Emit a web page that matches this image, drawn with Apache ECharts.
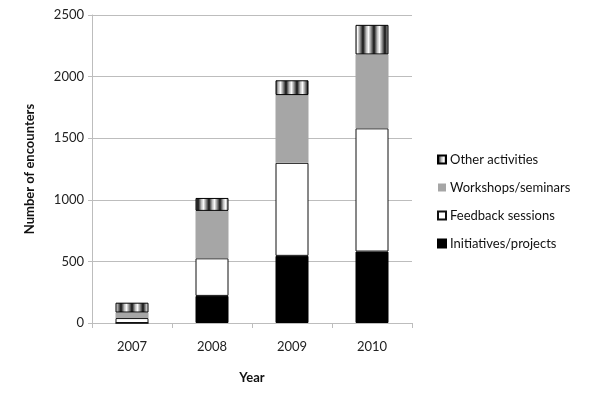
<!DOCTYPE html>
<html>
<head>
<meta charset="utf-8">
<script src="https://cdn.jsdelivr.net/npm/echarts@6/dist/echarts.min.js"></script>
<style>html,body{margin:0;padding:0;background:#fff;}#c{width:600px;height:406px;}</style>
</head>
<body>
<div id="c"></div>
<script>
const years = ['2007', '2008', '2009', '2010'];
const initiatives = [0, 220, 545, 580];
const feedback = [40, 305, 755, 1000];
const workshops = [45, 385, 550, 600];
const other = [80, 105, 120, 240];
const yTicks = [0, 500, 1000, 1500, 2000, 2500];

const pc = document.createElement('canvas');
pc.width = 11; pc.height = 4;
const g = pc.getContext('2d');
const grad = g.createLinearGradient(0, 0, 11, 0);
grad.addColorStop(0, '#111');
grad.addColorStop(0.3, '#bbb');
grad.addColorStop(0.5, '#fafafa');
grad.addColorStop(0.75, '#888');
grad.addColorStop(1, '#111');
g.fillStyle = grad;
g.fillRect(0, 0, 11, 4);

const font = 'Lato, "Open Sans", sans-serif';
const chart = echarts.init(document.getElementById('c'), null, {renderer: 'canvas'});
chart.setOption({
  animation: false,
  backgroundColor: '#fff',
  grid: {left: 92, right: 188, top: 15, bottom: 83},
  legend: {
    orient: 'vertical', left: 432, top: 148, itemWidth: 8, itemHeight: 8, itemGap: 15,
    icon: 'rect',
    data: ['Other activities', 'Workshops/seminars', 'Feedback sessions', 'Initiatives/projects'],
    textStyle: {fontFamily: font, fontSize: 13, color: '#111', padding: [0, 0, 0, -1]}
  },
  xAxis: {
    type: 'category', data: years,
    name: 'Year', nameLocation: 'middle', nameGap: 48,
    nameTextStyle: {fontFamily: font, fontSize: 13, fontWeight: 'bold', color: '#111'},
    axisLine: {lineStyle: {color: '#bdbdbd'}},
    axisTick: {show: true, length: 5, lineStyle: {color: '#bdbdbd'}},
    axisLabel: {fontFamily: font, fontSize: 13, color: '#222', margin: 17}
  },
  yAxis: {
    type: 'value', min: 0, max: 2500, interval: 500,
    name: 'Number of encounters', nameLocation: 'middle', nameGap: 56, nameRotate: 90,
    nameTextStyle: {fontFamily: font, fontSize: 13, fontWeight: 'bold', color: '#111'},
    axisLine: {show: true, lineStyle: {color: '#bdbdbd'}},
    axisTick: {show: true, length: 4, lineStyle: {color: '#bdbdbd'}},
    axisLabel: {fontFamily: font, fontSize: 13, color: '#222', margin: 8,
      formatter: v => yTicks.includes(v) ? String(v) : ''},
    splitLine: {lineStyle: {color: '#bdbdbd'}}
  },
  series: [
    {name: 'Initiatives/projects', type: 'bar', stack: 's', data: initiatives, barWidth: 33,
      itemStyle: {color: '#000', borderColor: '#000', borderWidth: 1}},
    {name: 'Feedback sessions', type: 'bar', stack: 's', data: feedback, barWidth: 33,
      itemStyle: {color: '#fff', borderColor: '#111', borderWidth: 1}},
    {name: 'Workshops/seminars', type: 'bar', stack: 's', data: workshops, barWidth: 33,
      itemStyle: {color: '#a6a6a6', borderWidth: 0}},
    {name: 'Other activities', type: 'bar', stack: 's', data: other, barWidth: 33,
      itemStyle: {color: {image: pc, repeat: 'repeat'}, borderColor: '#000', borderWidth: 1}}
  ]
});
</script>
</body>
</html>
